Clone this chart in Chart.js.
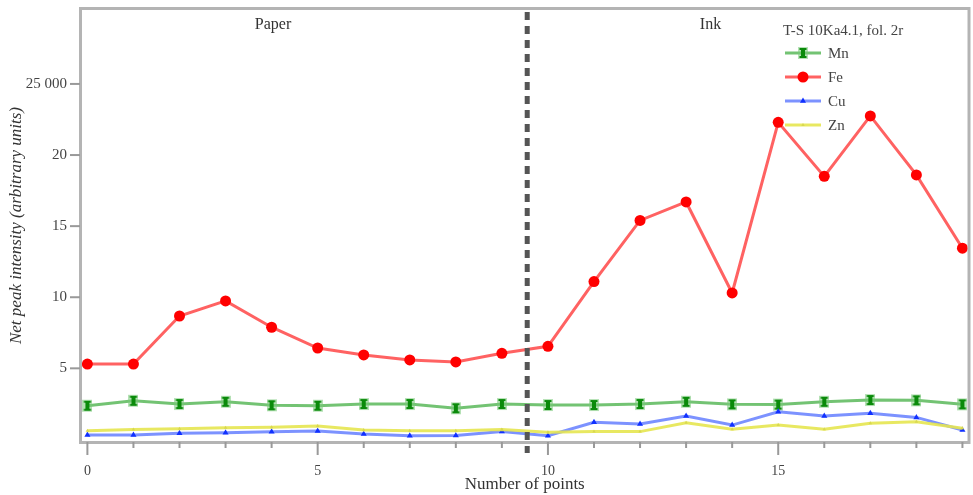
<!DOCTYPE html>
<html>
<head>
<meta charset="utf-8">
<script src="https://cdn.jsdelivr.net/npm/chart.js@4.4.1/dist/chart.umd.min.js"></script>
<style>
html,body{margin:0;padding:0;background:#fff;}
#wrap{position:relative;width:973px;height:495px;}
</style>
</head>
<body>
<div id="wrap"><canvas id="c" width="973" height="495"></canvas></div>
<script>
const points = [0,1,2,3,4,5,6,7,8,9,10,11,12,13,14,15,16,17,18,19];
const mnValues = [2.37,2.72,2.49,2.65,2.40,2.37,2.49,2.49,2.19,2.49,2.42,2.42,2.49,2.65,2.47,2.45,2.65,2.77,2.75,2.47];
const feValues = [5.30,5.30,8.68,9.74,7.89,6.43,5.94,5.59,5.45,6.06,6.55,11.10,15.40,16.70,10.30,22.30,18.50,22.75,18.60,13.45];
const cuValues = [0.31,0.31,0.43,0.47,0.54,0.60,0.38,0.26,0.28,0.55,0.26,1.20,1.08,1.65,1.01,1.95,1.65,1.84,1.55,0.66];
const znValues = [0.61,0.70,0.75,0.82,0.85,0.94,0.66,0.61,0.61,0.70,0.50,0.55,0.55,1.18,0.71,1.01,0.71,1.13,1.25,0.78];
const yTickValues = [5,10,15,20,25];
const xTickValues = [0,5,10,15];
const seriesNames = ['Mn','Fe','Cu','Zn'];
const legendTitle = 'T-S 10Ka4.1, fol. 2r';
const regionLabels = [{text:'Paper', x:4.03}, {text:'Ink', x:13.53}];
const dividerX = 9.55;

const FONT = '"Liberation Serif", "DejaVu Serif", serif';

function mnMarker(){
  const c = document.createElement('canvas');
  c.width = 10; c.height = 14;
  const g = c.getContext('2d');
  g.fillStyle = 'rgba(120,200,120,0.55)';
  g.fillRect(0,1,10,12);
  g.fillStyle = '#0a8a0a';
  g.fillRect(3,2,4,10);
  g.fillRect(1.5,2,7,2);
  g.fillRect(1.5,10,7,2);
  return c;
}
const mnImg = mnMarker();

const styles = {
  Mn:{line:'rgba(90,185,90,0.85)', pt:'#0a8a0a', style:mnImg, r:5},
  Fe:{line:'rgba(255,70,70,0.85)', pt:'#ff0000', style:'circle', r:5.5},
  Cu:{line:'rgba(80,110,255,0.75)', pt:'#1030ff', style:'triangle', r:3.5},
  Zn:{line:'rgba(230,230,80,0.9)', pt:'#d8d850', style:'triangle', r:2}
};
const valuesByName = {Mn:mnValues, Fe:feValues, Cu:cuValues, Zn:znValues};

const datasets = ['Zn','Cu','Mn','Fe'].map(n => ({
  label:n,
  data: points.map((p,i)=>({x:p, y:valuesByName[n][i]})),
  borderColor: styles[n].line,
  backgroundColor: styles[n].pt,
  pointBackgroundColor: styles[n].pt,
  pointBorderColor: styles[n].pt,
  pointStyle: styles[n].style,
  pointRadius: styles[n].r,
  pointBorderWidth: 0,
  borderWidth: 3,
  tension: 0
}));

const overlay = {
  id:'overlay',
  beforeDatasetsDraw(chart){
    const ctx = chart.ctx, a = chart.chartArea;
    const xs = chart.scales.x, ys = chart.scales.y;
    ctx.save();
    ctx.strokeStyle = '#b4b4b4';
    ctx.lineWidth = 3;
    ctx.strokeRect(a.left-1.5, a.top-1.5, a.right-a.left+3, a.bottom-a.top+3);
    ctx.strokeStyle = '#999';
    ctx.lineWidth = 2;
    points.forEach(p=>{
      const px = xs.getPixelForValue(p);
      const major = xTickValues.includes(p);
      ctx.beginPath();
      ctx.moveTo(px, a.bottom+1);
      ctx.lineTo(px, a.bottom + (major?14:7));
      ctx.stroke();
    });
    yTickValues.forEach(v=>{
      const py = ys.getPixelForValue(v);
      ctx.beginPath();
      ctx.moveTo(a.left-2, py);
      ctx.lineTo(a.left-12, py);
      ctx.stroke();
    });
    ctx.fillStyle = '#333';
    ctx.font = '16px ' + FONT;
    ctx.textAlign = 'center';
    ctx.textBaseline = 'middle';
    regionLabels.forEach(l=>{
      ctx.fillText(l.text, xs.getPixelForValue(l.x), a.top + 15);
    });
    ctx.restore();
  },
  afterDatasetsDraw(chart){
    const ctx = chart.ctx, a = chart.chartArea;
    const xs = chart.scales.x;
    ctx.save();
    const px = xs.getPixelForValue(dividerX);
    ctx.strokeStyle = '#555';
    ctx.lineWidth = 5;
    ctx.setLineDash([8,6]);
    ctx.beginPath();
    ctx.moveTo(px, a.top+2);
    ctx.lineTo(px, a.bottom+12);
    ctx.stroke();
    ctx.setLineDash([]);
    const lx = 783, ly = 31;
    ctx.fillStyle = '#444';
    ctx.font = '15px ' + FONT;
    ctx.textAlign = 'left';
    ctx.textBaseline = 'middle';
    ctx.fillText(legendTitle, lx, ly);
    const rows = [53, 77, 101, 125];
    seriesNames.forEach((n,i)=>{
      const y = rows[i], s = styles[n];
      ctx.strokeStyle = s.line;
      ctx.lineWidth = 3;
      ctx.beginPath(); ctx.moveTo(lx+2, y); ctx.lineTo(lx+38, y); ctx.stroke();
      ctx.fillStyle = s.pt;
      ctx.strokeStyle = s.pt;
      Chart.helpers.drawPoint(ctx, {pointStyle:s.style, radius:s.r, borderWidth:0, rotation:0}, lx+20, y);
      ctx.fillStyle = '#444';
      ctx.fillText(n, lx+45, y+1);
    });
    ctx.restore();
  }
};

new Chart(document.getElementById('c'), {
  type:'line',
  data:{datasets},
  options:{
    responsive:false,
    animation:false,
    layout:{padding:{left:0,right:5,top:10,bottom:0}},
    plugins:{legend:{display:false}, tooltip:{enabled:false}},
    scales:{
      x:{
        type:'linear', min:-0.117, max:19.11,
        afterBuildTicks(s){ s.ticks = xTickValues.map(v=>({value:v})); },
        afterFit(s){ s.height = 54; s.paddingLeft = 0; s.paddingRight = 0; s.paddingTop = 0; s.paddingBottom = 0; },
        grid:{display:false, drawTicks:false},
        border:{display:false},
        ticks:{color:'#444', font:{family:FONT, size:14}, padding:22, callback:v=>String(v)},
        title:{display:true, text:'Number of points', color:'#333', font:{family:FONT, size:17}, padding:{top:0,bottom:0}}
      },
      y:{
        min:-0.11, max:30.2,
        afterBuildTicks(s){ s.ticks = yTickValues.map(v=>({value:v})); },
        afterFit(s){ s.width = 82; s.paddingTop = 0; s.paddingBottom = 0; s.paddingLeft = 0; s.paddingRight = 0; },
        grid:{display:false, drawTicks:false},
        border:{display:false},
        ticks:{color:'#444', font:{family:FONT, size:15}, padding:15, callback:v=> v===25 ? '25 000' : String(v)},
        title:{display:true, text:'Net peak intensity (arbitrary units)', color:'#333', font:{family:FONT, size:17, style:'italic'}, padding:{top:6,bottom:4}}
      }
    }
  },
  plugins:[overlay]
});
</script>
</body>
</html>
